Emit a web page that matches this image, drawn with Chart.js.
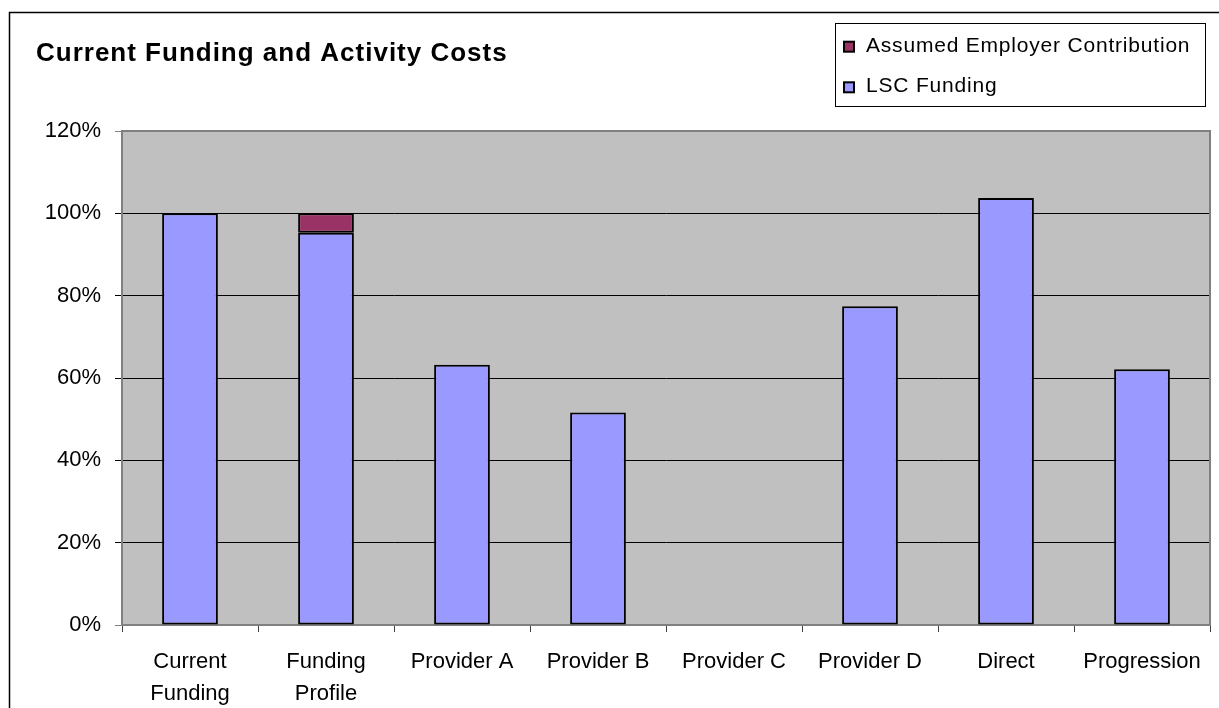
<!DOCTYPE html>
<html><head><meta charset="utf-8">
<script src="https://cdn.jsdelivr.net/npm/chart.js@4.4.1/dist/chart.umd.min.js"></script>
<style>html,body{margin:0;padding:0;background:#fff;overflow:hidden}#wrap{position:relative;width:1219px;height:708px}</style>
</head><body><div id="wrap"><canvas id="c" width="1219" height="708"></canvas></div>
<script>
const chartTitle = "Current Funding and Activity Costs";
const categories = [["Current","Funding"],["Funding","Profile"],"Provider A","Provider B","Provider C","Provider D","Direct","Progression"];
const lscFunding = [100, 95.3, 63.2, 51.6, null, 77.4, 103.7, 62.1];
const employerContribution = [null, 4.7, null, null, null, null, null, null];
const seriesNames = ["LSC Funding", "Assumed Employer Contribution"];
const seriesColors = ["#9999FF", "#993366"];
const yMin = 0, yMax = 120, yStep = 20;

const FONT = '"Liberation Sans", Arial, sans-serif';

const framePlugin = {
  id: 'frame',
  beforeDraw(chart) {
    const ctx = chart.ctx, a = chart.chartArea;
    ctx.save();
    ctx.fillStyle = '#fff';
    ctx.fillRect(0, 0, chart.width, chart.height);
    ctx.strokeStyle = '#000';
    ctx.lineWidth = 1.5;
    ctx.strokeRect(9.5, 12.5, 1400, 900);
    ctx.fillStyle = '#C0C0C0';
    ctx.fillRect(a.left, a.top, a.right - a.left, a.bottom - a.top);
    ctx.restore();
  },
  beforeDatasetsDraw(chart) {
    const ctx = chart.ctx, a = chart.chartArea;
    ctx.save();
    ctx.strokeStyle = '#808080';
    ctx.lineWidth = 2;
    ctx.beginPath();
    ctx.moveTo(a.left, a.top);
    ctx.lineTo(a.right, a.top);
    ctx.lineTo(a.right, a.bottom);
    ctx.stroke();
    ctx.restore();
  },
  afterDraw(chart) {
    const ctx = chart.ctx;
    ctx.save();
    ctx.fillStyle = '#000';
    ctx.font = 'bold 26px ' + FONT;
    ctx.letterSpacing = '1px';
    ctx.textBaseline = 'alphabetic';
    ctx.textAlign = 'left';
    ctx.fillText(chartTitle, 36, 61);
    ctx.letterSpacing = '0.8px';
    ctx.lineWidth = 1;
    ctx.strokeStyle = '#000';
    ctx.strokeRect(835.5, 23.5, 370, 83);
    ctx.font = '21px ' + FONT;
    const ds = chart.data.datasets.slice().reverse();
    ds.forEach((d, i) => {
      const base = 51.7 + i * 40.6;
      ctx.fillStyle = d.backgroundColor;
      ctx.fillRect(844, base - 10, 10, 10);
      ctx.lineWidth = 2;
      ctx.strokeRect(844, base - 10, 10, 10);
      ctx.fillStyle = '#000';
      ctx.fillText(d.label, 866, base);
    });
    ctx.restore();
  }
};

new Chart(document.getElementById('c'), {
  type: 'bar',
  data: {
    labels: categories,
    datasets: [
      { label: seriesNames[0], data: lscFunding, backgroundColor: seriesColors[0], borderColor: '#000', borderWidth: 2, borderSkipped: false, categoryPercentage: 1, barPercentage: 0.41 },
      { label: seriesNames[1], data: employerContribution, backgroundColor: seriesColors[1], borderColor: '#000', borderWidth: 2, borderSkipped: false, categoryPercentage: 1, barPercentage: 0.41 }
    ]
  },
  options: {
    responsive: false,
    animation: false,
    devicePixelRatio: 1,
    layout: { padding: { top: 131, right: 9, left: 0, bottom: 0 } },
    plugins: { legend: { display: false }, title: { display: false }, tooltip: { enabled: false } },
    scales: {
      x: {
        stacked: true,
        afterFit(s) { s.height = 83; },
        grid: { display: true, drawOnChartArea: false, drawTicks: true, tickLength: 7, color: '#404040', offset: true },
        border: { display: true, color: '#808080', width: 2 },
        ticks: { color: '#000', padding: 14, maxRotation: 0, autoSkip: false, font: { family: FONT, size: 22, lineHeight: 1.45 } }
      },
      y: {
        stacked: true,
        min: yMin, max: yMax,
        afterFit(s) { s.width = 122; },
        grid: {
          color: (c) => (c.tick && (c.tick.value === yMax || c.tick.value === yMin)) ? '#808080' : '#000',
          lineWidth: 1, tickLength: 7
        },
        border: { display: true, color: '#808080', width: 2 },
        ticks: { stepSize: yStep, color: '#000', padding: 14, font: { family: FONT, size: 22 }, callback: (v) => v + '%' }
      }
    }
  },
  plugins: [framePlugin]
});
</script></body></html>
